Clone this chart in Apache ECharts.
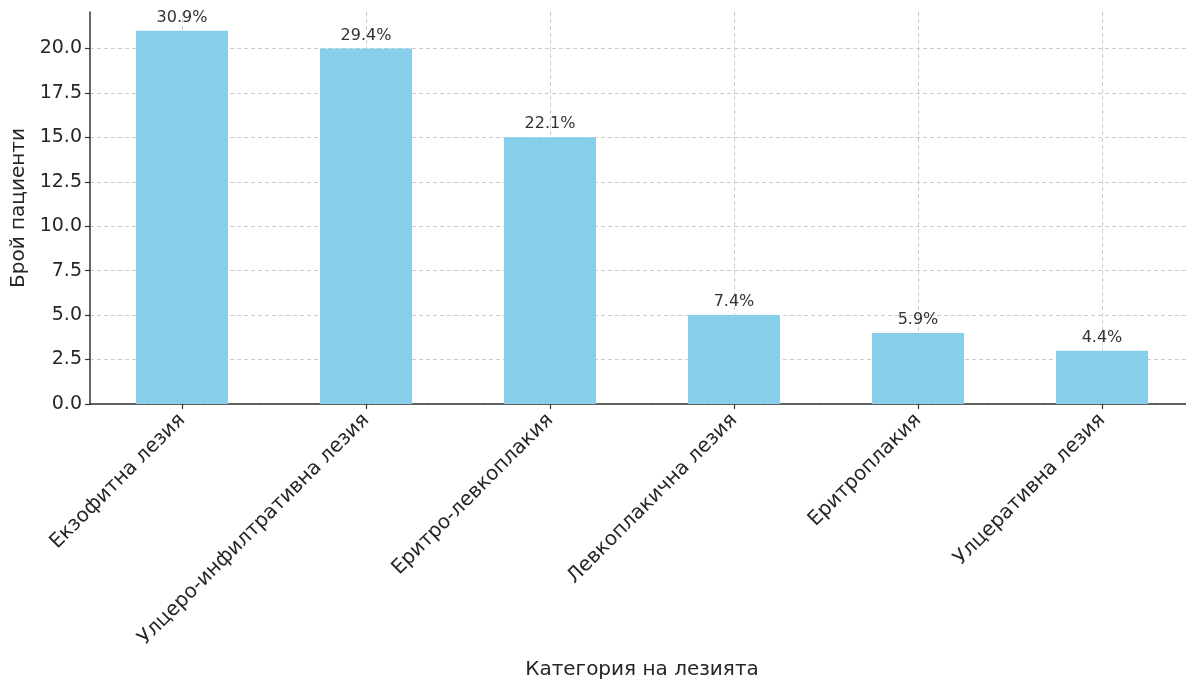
<!DOCTYPE html>
<html>
<head>
<meta charset="utf-8">
<script src="https://cdn.jsdelivr.net/npm/echarts@6/dist/echarts.min.js"></script>
<style>
  html, body { margin: 0; padding: 0; background: #ffffff; }
  #chart { width: 1186px; height: 682px; }
</style>
</head>
<body>
<div id="chart"></div>
<script>
// Lesion categories and number of patients in each
const categories = [
  'Екзофитна лезия',
  'Улцеро-инфилтративна лезия',
  'Еритро-левкоплакия',
  'Левкоплакична лезия',
  'Еритроплакия',
  'Улцеративна лезия'
];
const patients = [21, 20, 15, 5, 4, 3];
const yTicks = [0, 2.5, 5, 7.5, 10, 12.5, 15, 17.5, 20];
const yMax = 22.05;

const total = patients.reduce((a, b) => a + b, 0);
const FONT = 'DejaVu Sans';
const textColor = '#262626';
const axisColor = '#333333';
const gridLine = { show: true, lineStyle: { color: '#cccccc', type: [4, 3], width: 1 } };

const chart = echarts.init(document.getElementById('chart'), null, { renderer: 'canvas' });
chart.setOption({
  animation: false,
  backgroundColor: '#ffffff',
  grid: {
    left: 90, top: 12, width: 1104, height: 392,
    containLabel: false, outerBoundsMode: 'none'
  },
  xAxis: {
    type: 'category',
    data: categories,
    name: 'Категория на лезията',
    nameLocation: 'middle',
    nameGap: 256,
    nameTextStyle: { fontFamily: FONT, fontSize: 20, color: textColor },
    axisLine: { show: true, lineStyle: { color: axisColor, width: 1.5 } },
    axisTick: { show: true, alignWithLabel: true, length: 5, lineStyle: { color: axisColor, width: 1.2 } },
    axisLabel: {
      rotate: 45, margin: 13,
      fontFamily: FONT, fontSize: 20, color: textColor, interval: 0
    },
    splitLine: Object.assign({ alignWithLabel: true }, gridLine)
  },
  yAxis: {
    type: 'value',
    min: 0,
    max: yMax,
    interval: 2.5,
    name: 'Брой пациенти',
    nameLocation: 'middle',
    nameGap: 47,
    nameRotate: 90,
    nameTextStyle: { fontFamily: FONT, fontSize: 20, color: textColor },
    axisLine: { show: true, lineStyle: { color: axisColor, width: 1.5 } },
    axisTick: { show: true, length: 5, customValues: yTicks, lineStyle: { color: axisColor, width: 1.2 } },
    axisLabel: {
      margin: 8, customValues: yTicks,
      fontFamily: FONT, fontSize: 19, color: textColor,
      formatter: v => v.toFixed(1)
    },
    splitLine: gridLine
  },
  series: [{
    type: 'bar',
    data: patients,
    barWidth: '50%',
    itemStyle: { color: '#87ceeb' },
    z: 1,
    label: {
      show: true,
      position: 'top',
      distance: 5,
      fontFamily: FONT,
      fontSize: 16,
      color: '#333333',
      formatter: p => (p.value / total * 100).toFixed(1) + '%'
    }
  }]
});
</script>
</body>
</html>
